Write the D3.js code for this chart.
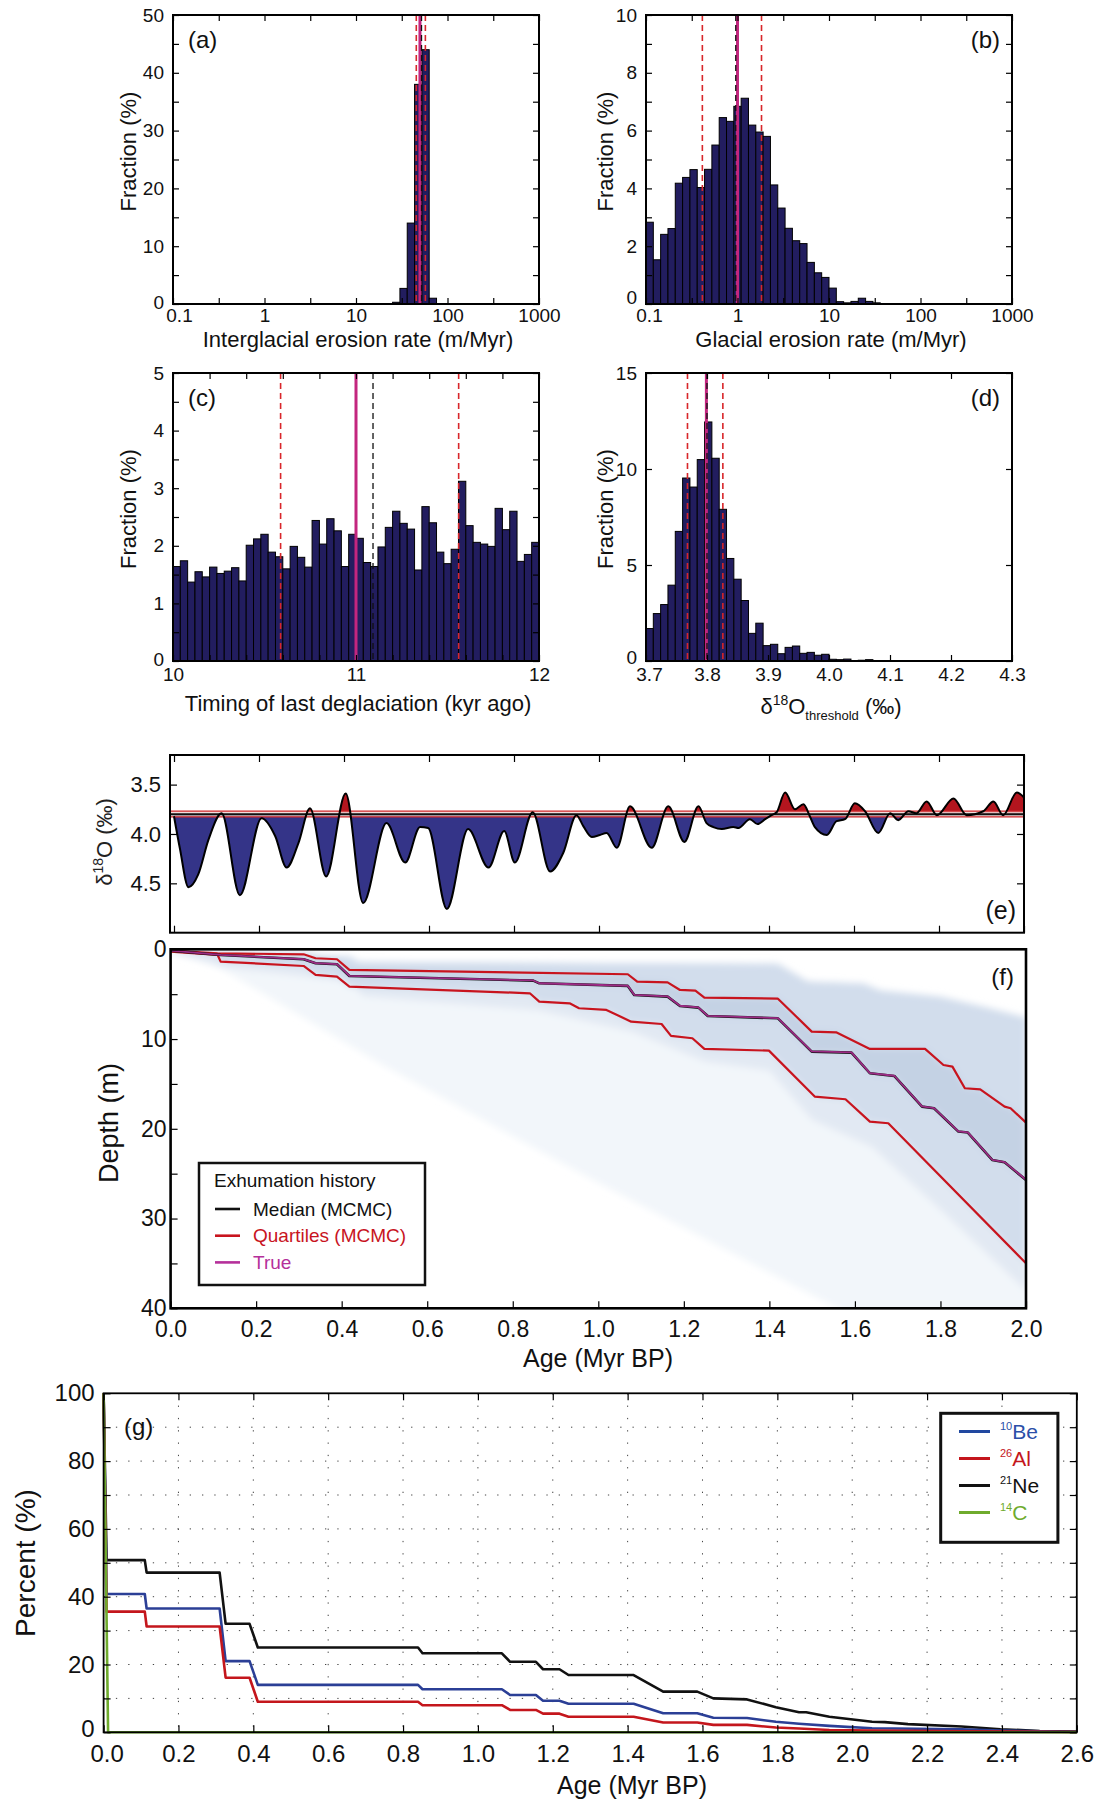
<!DOCTYPE html>
<html>
<head>
<meta charset="utf-8">
<title>Exhumation model results</title>
<script src="https://cdn.jsdelivr.net/npm/d3@7/dist/d3.min.js"></script>
<style>
  html,body{margin:0;padding:0;background:#fff;}
  svg{display:block;}
</style>
</head>
<body>
<svg id="fig" width="1100" height="1802" xmlns="http://www.w3.org/2000/svg"></svg>
<script>
// ---------------- data ----------------
// (a) interglacial erosion rate: 50 log bins between 0.1 and 1000 m/Myr, % of models
const interglacialFrac = [0,0,0,0,0,0,0,0,0,0, 0,0,0,0,0,0,0,0,0,0, 0,0,0,0,0,0,0,0,0,0,
  0.3,2.7,14,38,44,1.0,0,0,0,0, 0,0,0,0,0,0,0,0,0,0];
const interglacialQuartiles = [45.6, 57.3];
const interglacialMedian = 52.0;
const interglacialTrue = 50;

// (b) glacial erosion rate, same bins
const glacialFrac = [2.83,1.53,2.41,2.61,4.18,4.38,4.65,4.03,4.66,5.50,
  6.45,6.32,6.84,7.12,6.19,5.95,5.80,4.12,3.32,2.62,
  2.19,2.09,1.44,1.08,0.92,0.55,0.08,0.04,0.09,0.20,
  0.09,0.04,0,0,0,0,0,0,0,0, 0,0,0,0,0,0,0,0,0,0];
const glacialQuartiles = [0.413, 1.83];
const glacialMedian = 0.957;
const glacialTrue = 1.0;

// (c) timing of last deglaciation: 50 bins from 10 to 12 kyr
const deglacFrac = [1.64,1.74,1.37,1.55,1.46,1.63,1.52,1.56,1.62,1.39,
  2.01,2.12,2.20,1.89,1.81,1.60,1.99,1.80,1.63,2.44,
  2.03,2.47,2.26,1.64,2.20,2.13,1.71,1.64,1.98,2.32,
  2.60,2.39,2.29,1.58,2.68,2.40,1.89,1.69,1.94,3.12,
  2.35,2.06,2.03,1.99,2.65,2.28,2.60,1.73,1.85,2.06];
const deglacQuartiles = [10.588, 11.561];
const deglacMedian = 11.093;
const deglacTrue = 11.0;

// (d) d18O threshold: 50 bins from 3.7 to 4.3 permil
const thresholdFrac = [1.69,2.47,2.94,3.95,6.75,9.53,9.06,10.49,12.45,10.56,
  7.90,5.34,4.26,3.15,1.44,1.97,0.80,0.87,0.38,0.71,
  0.78,0.40,0.45,0.30,0.35,0.09,0.07,0.10,0.02,0.04,
  0.07,0,0.02,0.02,0.01,0.01,0.01,0,0,0, 0,0,0,0,0,0,0,0,0,0];
const thresholdQuartiles = [3.768, 3.826];
const thresholdMedian = 3.800;
const thresholdTrue = 3.799;

// (e) benthic d18O record (Myr BP, permil)
const d18OAge = [0.000,0.014,0.034,0.057,0.081,0.112,0.155,0.206,0.238,0.265,
  0.293,0.320,0.358,0.404,0.445,0.500,0.544,0.579,0.598,0.642,
  0.692,0.740,0.777,0.802,0.844,0.885,0.916,0.947,0.963,0.983,
  1.002,1.018,1.042,1.073,1.124,1.163,1.201,1.234,1.253,1.269,
  1.289,1.316,1.328,1.355,1.373,1.391,1.406,1.418,1.438,1.461,
  1.481,1.496,1.508,1.536,1.559,1.579,1.602,1.626,1.657,1.685,
  1.704,1.728,1.747,1.771,1.795,1.834,1.865,1.904,1.928,1.951,
  1.983,2.000];
const d18OValue = [3.82,4.15,4.54,4.41,4.06,3.79,4.62,3.84,4.02,4.34,
  4.09,3.74,4.43,3.59,4.70,3.89,4.29,3.93,3.94,4.76,
  3.95,4.34,3.97,4.29,3.78,4.38,4.19,3.81,3.92,4.03,
  4.01,3.99,4.14,3.72,4.14,3.72,4.08,3.72,3.89,3.93,
  3.95,3.93,3.94,3.85,3.90,3.85,3.81,3.78,3.58,3.75,
  3.70,3.82,3.93,4.01,3.87,3.85,3.69,3.77,3.99,3.79,
  3.86,3.77,3.79,3.67,3.81,3.64,3.81,3.77,3.67,3.81,
  3.58,3.63];
const d18OTicks = [3.5, 4.0, 4.5];

// (f) exhumation histories (Myr BP, depth m)
const upperQAge   = [0,0.110,0.311,0.339,0.389,0.418,1.069,1.091,1.162,1.191,1.227,1.248,1.420,1.499,1.556,1.635,1.764,1.807,1.828,1.857,1.893,1.950,1.964,2.000];
const upperQDepth = [0.15,0.45,0.56,1.00,1.11,2.30,2.78,3.60,3.68,4.53,4.60,5.38,5.50,9.17,9.25,11.10,11.10,12.89,13.07,15.48,15.60,17.53,17.71,19.31];
const medianAge   = [0,0.117,0.311,0.339,0.389,0.418,0.848,0.862,1.069,1.084,1.162,1.191,1.234,1.256,1.420,1.499,1.592,1.635,1.692,1.757,1.785,1.842,1.864,1.921,1.950,2.000];
const medianDepth = [0.15,0.63,1.11,1.56,1.67,2.97,3.49,3.79,4.08,5.09,5.27,6.31,6.50,7.43,7.69,11.40,11.51,13.81,14.11,17.53,17.71,20.31,20.42,23.47,23.73,25.70];
const lowerQAge   = [0,0.110,0.117,0.311,0.339,0.389,0.418,0.840,0.862,0.933,0.955,1.019,1.077,1.148,1.170,1.220,1.248,1.399,1.506,1.578,1.635,1.678,2.000];
const lowerQDepth = [0.26,0.63,1.37,1.86,2.86,3.04,4.16,4.90,5.83,6.02,6.57,6.76,8.06,8.32,9.65,9.91,11.10,11.29,16.41,16.71,19.20,19.38,34.98];
const trueAge     = [0,0.117,0.311,0.339,0.389,0.418,0.848,0.862,1.069,1.084,1.162,1.191,1.234,1.256,1.420,1.499,1.592,1.635,1.692,1.757,1.785,1.842,1.864,1.921,1.950,2.000];
const trueDepth   = [0.15,0.62,1.10,1.55,1.66,2.95,3.47,3.78,4.06,5.07,5.25,6.29,6.48,7.41,7.67,11.38,11.49,13.79,14.09,17.51,17.69,20.29,20.40,23.45,23.71,25.68];
// extent of the accepted-model cloud
const cloudTopAge    = [0,0.10,0.33,0.35,0.42,0.44,1.42,1.49,1.62,1.66,1.80,1.90,2.00];
const cloudTopDepth  = [0,0.2,0.4,0.7,0.8,1.4,1.6,3.6,3.8,4.6,5.3,6.4,7.6];
const cloudCoreAge   = [0,0.12,0.42,0.45,0.86,1.08,1.25,1.40,1.50,1.64,1.80,2.00];
const cloudCoreDepth = [0.3,2.0,3.6,5.2,6.8,9.2,12.5,13.5,19.0,22.0,29.0,38.0];
const cloudEdgeAge   = [0,0.05,0.12,0.50,1.00,1.40,1.60,2.00];
const cloudEdgeDepth = [0.2,0.6,2.2,13,26,36,41,41];

// (g) nuclide concentration relative to surface (Myr BP, %)
const neAge = [0,0.008,0.110,0.115,0.310,0.326,0.390,0.412,0.840,0.852,1.064,1.086,1.155,1.174,1.218,1.242,1.416,1.495,1.586,1.629,1.719,1.796,1.858,1.877,1.939,2.053,2.087,2.149,2.292,2.396,2.501,2.600];
const nePct = [100,50.8,50.8,47.1,47.1,32.0,32.0,25.0,25.0,23.3,23.3,20.8,20.8,18.6,18.6,16.9,16.9,12.0,12.0,10.0,9.7,7.4,5.9,5.9,4.6,3.1,3.0,2.4,1.7,0.9,0.4,0.2];
const beAge = [0,0.008,0.110,0.115,0.310,0.326,0.390,0.412,0.840,0.852,1.064,1.086,1.155,1.174,1.218,1.242,1.416,1.495,1.586,1.629,1.719,1.796,1.858,1.939,2.053,2.292,2.396,2.600];
const bePct = [100,40.8,40.8,36.5,36.5,21.0,21.0,14.0,14.0,12.7,12.7,11.0,11.0,9.3,9.3,8.4,8.4,5.6,5.6,4.3,4.2,3.1,2.5,1.9,1.2,0.9,0.5,0.1];
const alAge = [0,0.008,0.110,0.115,0.310,0.326,0.390,0.412,0.840,0.852,1.064,1.086,1.155,1.174,1.218,1.242,1.416,1.495,1.586,1.629,1.719,1.796,1.858,1.939,2.053,2.292,2.600];
const alPct = [100,35.6,35.6,31.2,31.2,16.1,16.1,9.0,9.0,8.0,8.0,6.6,6.6,5.5,5.5,4.6,4.6,2.9,2.9,2.2,2.2,1.4,1.1,0.7,0.5,0.3,0.1];
const cAge = [0,0.012,2.600];
const cPct = [100,0,0];
const nuclideNames = ["Be","Al","Ne","C"];
const nuclideMass = ["10","26","21","14"];

// ---------------- drawing ----------------
const FONT = "'Liberation Sans', Arial, Helvetica, sans-serif";
const NAVY = "#221d5f";
const QRED = "#d8262a";
const MAGENTA = "#c3267f";
const svg = d3.select("#fig");
const defs = svg.append("defs");
defs.append("filter").attr("id", "soft").attr("x", "-5%").attr("y", "-5%").attr("width", "110%").attr("height", "110%")
  .append("feGaussianBlur").attr("stdDeviation", 3.5);

function box(g, x0, y0, x1, y1, w) {
  g.append("rect").attr("x", x0).attr("y", y0).attr("width", x1 - x0).attr("height", y1 - y0)
    .attr("fill", "none").attr("stroke", "#000").attr("stroke-width", w);
}
function axis(g, gen, tx, ty, size, opts = {}) {
  const a = g.append("g").attr("transform", `translate(${tx},${ty})`).call(gen);
  a.select(".domain").remove();
  a.selectAll(".tick line").attr("stroke", "#000").attr("stroke-width", opts.tw || 1.2);
  a.selectAll(".tick text").attr("font-size", size).attr("font-family", FONT).attr("fill", "#111");
  if (opts.noText) a.selectAll(".tick text").remove();
  return a;
}
function label(parent, str, x, y, size, o = {}) {
  const t = parent.append("text").attr("x", x).attr("y", y)
    .attr("font-size", size).attr("font-family", FONT)
    .attr("fill", o.fill || "#111").attr("text-anchor", o.anchor || "start")
    .attr("dy", o.dy == null ? "0.35em" : o.dy);
  if (o.rotate) t.attr("transform", `rotate(-90 ${x} ${y})`);
  t.text(str);
  return t;
}
// nudge the corner labels (lowest y value, first x value) apart
function nudgeCorner(xa, ya, dx, dyUp) {
  xa.select(".tick text").attr("dx", dx);
  ya.select(".tick text").attr("y", -dyUp);
}

function histPanel(o) {
  const g = svg.append("g");
  const x = o.x;
  const y = d3.scaleLinear().domain([0, o.yMax]).range([o.bottom, o.top]);
  const bins = o.frac.map((v, i) => ({ lo: o.edges[i], hi: o.edges[i + 1], v })).filter(d => d.v > 0);
  g.append("g").selectAll("rect").data(bins).join("rect")
    .attr("x", d => x(d.lo)).attr("y", d => y(d.v))
    .attr("width", d => x(d.hi) - x(d.lo)).attr("height", d => y(0) - y(d.v))
    .attr("fill", NAVY).attr("stroke", "#000").attr("stroke-width", 1);
  const vline = (v, col, w, dash) => g.append("line")
    .attr("x1", x(v)).attr("x2", x(v)).attr("y1", o.top).attr("y2", o.bottom)
    .attr("stroke", col).attr("stroke-width", w).attr("stroke-dasharray", dash || null);
  o.quart.forEach(v => vline(v, QRED, 1.6, "6,4"));
  vline(o.tru, MAGENTA, 3);
  vline(o.med, "#111", 1.3, "6,4");

  const xa = axis(g, d3.axisBottom(x).tickValues(o.xMajor).tickFormat(o.xFmt).tickSize(-6).tickPadding(o.xPad), 0, o.bottom, 19);
  axis(g, d3.axisBottom(x).tickValues(o.xMinor).tickSize(-6).tickFormat(""), 0, o.bottom, 19, { noText: true });
  axis(g, d3.axisTop(x).tickValues(o.xMajor.concat(o.xMinor)).tickSize(-6).tickFormat(""), 0, o.top, 19, { noText: true });
  const ya = axis(g, d3.axisLeft(y).tickValues(o.yMajor).tickFormat(d3.format("d")).tickSize(-6).tickPadding(9), o.left, 0, 19);
  axis(g, d3.axisLeft(y).tickValues(o.yMinor).tickSize(-6).tickFormat(""), o.left, 0, 19, { noText: true });
  axis(g, d3.axisRight(y).tickValues(o.yMajor.concat(o.yMinor)).tickSize(-6).tickFormat(""), o.right, 0, 19, { noText: true });
  nudgeCorner(xa, ya, o.cornerDx, o.cornerUp);
  box(g, o.left, o.top, o.right, o.bottom, 2);

  label(g, o.letter, o.letterRight ? o.right - 12 : o.left + 15, o.top + 25, 24, { anchor: o.letterRight ? "end" : "start" });
  label(g, "Fraction (%)", o.yTitleX, (o.top + o.bottom) / 2 - 8, 22, { anchor: "middle", rotate: true });
  if (o.xTitle) label(g, o.xTitle, (o.left + o.right) / 2 + 2, o.xTitleY, 22, { anchor: "middle" });
  return g;
}

const logEdges = d3.range(51).map(i => Math.pow(10, -1 + 0.08 * i));
const rateFmt = d => (d < 1 ? "0.1" : String(d));
const rateMinor = [Math.sqrt(0.1), Math.sqrt(10), Math.sqrt(1000), Math.sqrt(100000)];

histPanel({
  left: 173, right: 539, top: 15, bottom: 304,
  x: d3.scaleLog().domain([0.1, 1000]).range([173, 539]),
  yMax: 50, edges: logEdges, frac: interglacialFrac,
  quart: interglacialQuartiles, med: interglacialMedian, tru: interglacialTrue,
  xMajor: [0.1, 1, 10, 100, 1000], xMinor: rateMinor, xFmt: rateFmt, xPad: 5, cornerDx: 6, cornerUp: 2,
  yMajor: [0, 10, 20, 30, 40, 50], yMinor: [5, 15, 25, 35, 45],
  letter: "(a)", letterRight: false, yTitleX: 128,
  xTitle: "Interglacial erosion rate (m/Myr)", xTitleY: 339
});
histPanel({
  left: 646, right: 1012, top: 15, bottom: 304,
  x: d3.scaleLog().domain([0.1, 1000]).range([646, 1012]),
  yMax: 10, edges: logEdges, frac: glacialFrac,
  quart: glacialQuartiles, med: glacialMedian, tru: glacialTrue,
  xMajor: [0.1, 1, 10, 100, 1000], xMinor: rateMinor, xFmt: rateFmt, xPad: 5, cornerDx: 3, cornerUp: 7,
  yMajor: [0, 2, 4, 6, 8, 10], yMinor: [1, 3, 5, 7, 9],
  letter: "(b)", letterRight: true, yTitleX: 605,
  xTitle: "Glacial erosion rate (m/Myr)", xTitleY: 339
});
histPanel({
  left: 173, right: 539, top: 373, bottom: 661,
  x: d3.scaleLinear().domain([10, 12]).range([173, 539]),
  yMax: 5, edges: d3.range(51).map(i => 10 + 0.04 * i), frac: deglacFrac,
  quart: deglacQuartiles, med: deglacMedian, tru: deglacTrue,
  xMajor: [10, 11, 12], xMinor: [10.2, 10.4, 10.6, 10.8, 11.2, 11.4, 11.6, 11.8], xFmt: d3.format("d"), xPad: 7, cornerDx: 0, cornerUp: 2,
  yMajor: [0, 1, 2, 3, 4, 5], yMinor: [0.5, 1.5, 2.5, 3.5, 4.5],
  letter: "(c)", letterRight: false, yTitleX: 128,
  xTitle: "Timing of last deglaciation (kyr ago)", xTitleY: 703
});
const gd = histPanel({
  left: 646, right: 1012, top: 373, bottom: 661,
  x: d3.scaleLinear().domain([3.7, 4.3]).range([646, 1012]),
  yMax: 15, edges: d3.range(51).map(i => 3.7 + 0.012 * i), frac: thresholdFrac,
  quart: thresholdQuartiles, med: thresholdMedian, tru: thresholdTrue,
  xMajor: [3.7, 3.8, 3.9, 4.0, 4.1, 4.2, 4.3], xMinor: [], xFmt: d3.format(".1f"), xPad: 7, cornerDx: 3, cornerUp: 4,
  yMajor: [0, 5, 10, 15], yMinor: [],
  letter: "(d)", letterRight: true, yTitleX: 605,
  xTitle: null
});
{
  const t = gd.append("text").attr("x", 831).attr("y", 714).attr("text-anchor", "middle")
    .attr("font-family", FONT).attr("font-size", 22).attr("fill", "#111");
  t.append("tspan").text("δ");
  t.append("tspan").attr("font-size", 14).attr("dy", -9).text("18");
  t.append("tspan").attr("dy", 9).text("O");
  t.append("tspan").attr("font-size", 13).attr("dy", 6).text("threshold");
  t.append("tspan").attr("dy", -6).text(" (‰)");
}

// ---------- (e) d18O record ----------
{
  const L = 170, R = 1024, T = 755, B = 932.7;
  const g = svg.append("g");
  const x = d3.scaleLinear().domain([0, 2]).range([174, 1024]);
  const y = d3.scaleLinear().domain([3.2, 5.0]).range([T, B]);
  const pts = d18OAge.map((a, i) => ({ a, v: d18OValue[i] }));
  const thr = thresholdMedian;
  defs.append("clipPath").attr("id", "eBelow").append("rect").attr("x", L).attr("y", y(thr)).attr("width", R - L).attr("height", B - y(thr));
  defs.append("clipPath").attr("id", "eAbove").append("rect").attr("x", L).attr("y", T).attr("width", R - L).attr("height", y(thr) - T);
  const area = d3.area().x(d => x(d.a)).y0(y(thr)).y1(d => y(d.v)).curve(d3.curveMonotoneX);
  g.append("path").attr("d", area(pts)).attr("fill", "#343488").attr("clip-path", "url(#eBelow)");
  g.append("path").attr("d", area(pts)).attr("fill", "#b3151e").attr("clip-path", "url(#eAbove)");
  // threshold quartile band and median
  g.append("rect").attr("x", L).attr("y", y(thresholdQuartiles[0])).attr("width", R - L)
    .attr("height", y(thresholdQuartiles[1]) - y(thresholdQuartiles[0])).attr("fill", "#eed6d6").attr("opacity", 0.85);
  thresholdQuartiles.forEach(v => g.append("line").attr("x1", L).attr("x2", R).attr("y1", y(v)).attr("y2", y(v)).attr("stroke", "#d0262a").attr("stroke-width", 1.3));
  g.append("line").attr("x1", L).attr("x2", R).attr("y1", y(thr)).attr("y2", y(thr)).attr("stroke", "#111").attr("stroke-width", 1.8);
  g.append("path").attr("d", d3.line().x(d => x(d.a)).y(d => y(d.v)).curve(d3.curveMonotoneX)(pts))
    .attr("fill", "none").attr("stroke", "#000").attr("stroke-width", 2);

  const ageTicks = d3.range(0, 2.001, 0.2);
  axis(g, d3.axisBottom(x).tickValues(ageTicks).tickSize(-7).tickFormat(""), 0, B, 20, { noText: true });
  axis(g, d3.axisTop(x).tickValues(ageTicks).tickSize(-7).tickFormat(""), 0, T, 20, { noText: true });
  axis(g, d3.axisLeft(y).tickValues(d18OTicks).tickSize(-7).tickPadding(9).tickFormat(d3.format(".1f")), L, 0, 22);
  axis(g, d3.axisRight(y).tickValues(d18OTicks).tickSize(-7).tickFormat(""), R, 0, 22, { noText: true });
  box(g, L, T, R, B, 2);
  label(g, "(e)", 1016, 910, 25, { anchor: "end" });
  const t = g.append("text").attr("x", 104).attr("y", 842).attr("text-anchor", "middle")
    .attr("font-family", FONT).attr("font-size", 22).attr("fill", "#222").attr("dy", "0.35em")
    .attr("transform", "rotate(-90 104 842)");
  t.append("tspan").text("δ");
  t.append("tspan").attr("font-size", 14).attr("dy", -9).text("18");
  t.append("tspan").attr("dy", 9).text("O (‰)");
}

// ---------- (f) exhumation history ----------
{
  const L = 170.6, R = 1026, T = 949.3, B = 1308.3;
  const g = svg.append("g");
  const x = d3.scaleLinear().domain([0, 2]).range([L, R]);
  const y = d3.scaleLinear().domain([0, 40]).range([T, B]);
  defs.append("clipPath").attr("id", "fClip").append("rect").attr("x", L).attr("y", T).attr("width", R - L).attr("height", B - T);
  const zip = (a, d) => a.map((v, i) => [x(v), y(d[i])]);
  const band = (topA, topD, botA, botD) => d3.line()(zip(topA, topD).concat(zip(botA, botD).reverse())) + "Z";
  const cloud = g.append("g").attr("clip-path", "url(#fClip)").append("g").attr("filter", "url(#soft)");
  cloud.append("path").attr("d", band(cloudTopAge, cloudTopDepth, cloudEdgeAge, cloudEdgeDepth)).attr("fill", "#f2f6fa");
  cloud.append("path").attr("d", band(cloudTopAge, cloudTopDepth, cloudCoreAge, cloudCoreDepth)).attr("fill", "#e2e9f3");
  cloud.append("path").attr("d", band(cloudTopAge, cloudTopDepth, lowerQAge, lowerQDepth)).attr("fill", "#d2ddec");
  cloud.append("path").attr("d", band(upperQAge, upperQDepth, medianAge, medianDepth)).attr("fill", "#b8c8df").attr("opacity", 0.55);

  const line = d3.line();
  const curves = g.append("g").attr("clip-path", "url(#fClip)").attr("fill", "none").attr("stroke-linejoin", "round");
  curves.append("path").attr("d", line(zip(lowerQAge, lowerQDepth))).attr("stroke", "#c8141e").attr("stroke-width", 2.2);
  curves.append("path").attr("d", line(zip(upperQAge, upperQDepth))).attr("stroke", "#c8141e").attr("stroke-width", 2.2);
  curves.append("path").attr("d", line(zip(medianAge, medianDepth))).attr("stroke", "#111").attr("stroke-width", 2.6);
  curves.append("path").attr("d", line(zip(trueAge, trueDepth))).attr("stroke", "#b5309a").attr("stroke-width", 1.8).attr("opacity", 0.85);

  axis(g, d3.axisBottom(x).tickValues(d3.range(0, 2.001, 0.2)).tickSize(-7).tickPadding(12).tickFormat(d3.format(".1f")), 0, B, 23);
  axis(g, d3.axisLeft(y).tickValues([0, 10, 20, 30, 40]).tickSize(-7).tickPadding(4), L, 0, 23);
  axis(g, d3.axisLeft(y).tickValues([5, 15, 25, 35]).tickSize(-7).tickFormat(""), L, 0, 23, { noText: true });
  box(g, L, T, R, B, 2.6);
  label(g, "(f)", 1014, 977, 24, { anchor: "end" });
  label(g, "Age (Myr BP)", 598, 1358, 25, { anchor: "middle" });
  label(g, "Depth (m)", 109, 1123, 27, { anchor: "middle", rotate: true });

  // legend
  const lg = g.append("g");
  lg.append("rect").attr("x", 199).attr("y", 1163).attr("width", 226).attr("height", 122)
    .attr("fill", "#fff").attr("stroke", "#111").attr("stroke-width", 2.5);
  label(lg, "Exhumation history", 214, 1180, 19);
  const items = [["Median (MCMC)", "#111", "#111"], ["Quartiles (MCMC)", "#c8141e", "#c8141e"], ["True", "#b5309a", "#b5309a"]];
  items.forEach((it, i) => {
    const yy = 1209 + i * 26.7;
    lg.append("line").attr("x1", 215).attr("x2", 240).attr("y1", yy).attr("y2", yy).attr("stroke", it[1]).attr("stroke-width", 2.6);
    label(lg, it[0], 253, yy, 19, { fill: it[2] });
  });
}

// ---------- (g) nuclide inventory ----------
{
  const L = 103.6, R = 1076.8, T = 1393.3, B = 1732.3;
  const g = svg.append("g");
  const x = d3.scaleLinear().domain([0, 2.6]).range([L, R]);
  const y = d3.scaleLinear().domain([0, 100]).range([B, T]);
  const xt = d3.range(0, 2.601, 0.2);
  const yt = d3.range(0, 100.1, 10);
  const grid = g.append("g").attr("stroke", "#444").attr("stroke-width", 1).attr("stroke-dasharray", "1.3,11");
  xt.slice(1, -1).forEach(v => grid.append("line").attr("x1", x(v)).attr("x2", x(v)).attr("y1", T).attr("y2", B));
  yt.slice(1, -1).forEach(v => grid.append("line").attr("x1", L).attr("x2", R).attr("y1", y(v)).attr("y2", y(v)));

  const line = d3.line();
  const zip = (a, p) => a.map((v, i) => [x(v), y(p[i])]);
  const curves = g.append("g").attr("fill", "none").attr("stroke-linejoin", "round");
  curves.append("path").attr("d", line(zip(neAge, nePct))).attr("stroke", "#111").attr("stroke-width", 2.6);
  curves.append("path").attr("d", line(zip(beAge, bePct))).attr("stroke", "#2b3f96").attr("stroke-width", 2.6);
  curves.append("path").attr("d", line(zip(alAge, alPct))).attr("stroke", "#c4161c").attr("stroke-width", 2.6);
  curves.append("path").attr("d", line(zip(cAge, cPct))).attr("stroke", "#6fab2d").attr("stroke-width", 2.6);

  const xa = axis(g, d3.axisBottom(x).tickValues(xt).tickSize(-7).tickPadding(13).tickFormat(d3.format(".1f")), 0, B, 24);
  axis(g, d3.axisTop(x).tickValues(xt).tickSize(-7).tickFormat(""), 0, T, 24, { noText: true });
  const ya = axis(g, d3.axisLeft(y).tickValues(d3.range(0, 100.1, 20)).tickSize(-7).tickPadding(9), L, 0, 24);
  axis(g, d3.axisLeft(y).tickValues(d3.range(10, 100, 20)).tickSize(-7).tickFormat(""), L, 0, 24, { noText: true });
  axis(g, d3.axisRight(y).tickValues(yt).tickSize(-7).tickFormat(""), R, 0, 24, { noText: true });
  nudgeCorner(xa, ya, 3, 3);
  box(g, L, T, R, B, 1.8);
  label(g, "(g)", 124, 1427, 24);
  label(g, "Age (Myr BP)", 632, 1785, 25, { anchor: "middle" });
  label(g, "Percent (%)", 25, 1563, 28, { anchor: "middle", rotate: true });

  // legend
  const lg = g.append("g");
  lg.append("rect").attr("x", 940.7).attr("y", 1413.3).attr("width", 117.2).attr("height", 129)
    .attr("fill", "#fff").attr("stroke", "#111").attr("stroke-width", 3);
  const lineCol = ["#2148a0", "#c4161c", "#111", "#6fab2d"];
  const textCol = ["#2b4fa8", "#c4161c", "#111", "#6fab2d"];
  nuclideNames.forEach((nm, i) => {
    const yy = 1431.5 + i * 27;
    lg.append("line").attr("x1", 959).attr("x2", 990).attr("y1", yy).attr("y2", yy).attr("stroke", lineCol[i]).attr("stroke-width", 3);
    const t = lg.append("text").attr("x", 1000).attr("y", yy + 7.5)
      .attr("font-family", FONT).attr("font-size", 21).attr("fill", textCol[i]);
    t.append("tspan").attr("font-size", 11).attr("dy", -9).text(nuclideMass[i]);
    t.append("tspan").attr("dy", 9).text(nm);
  });
}
</script>
</body>
</html>
